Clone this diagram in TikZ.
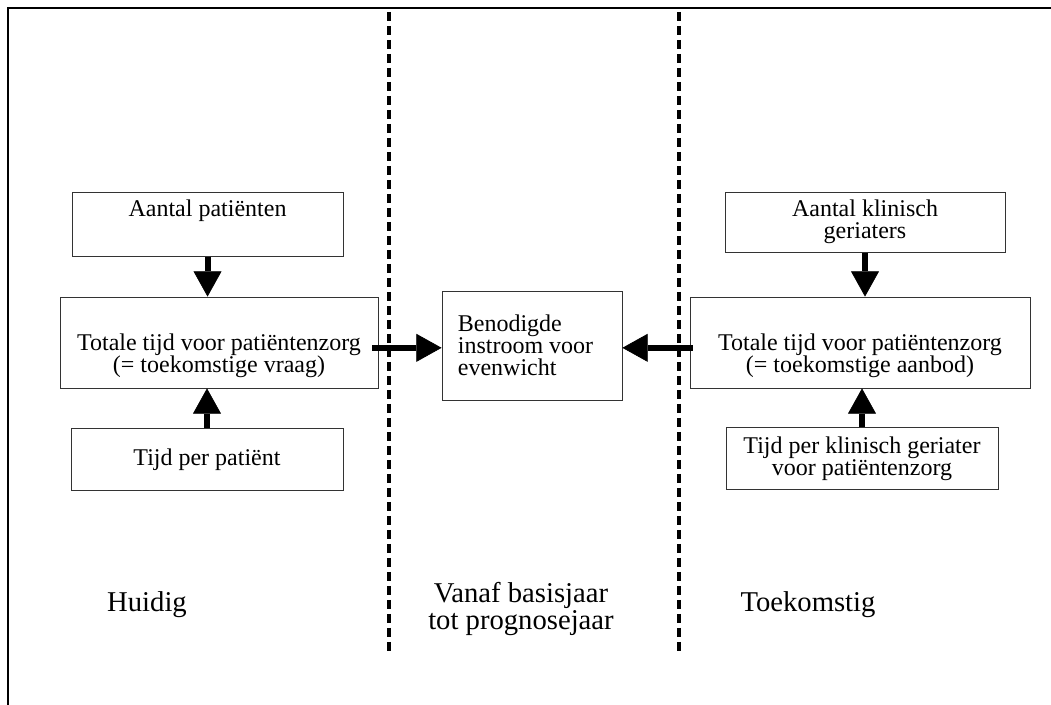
\documentclass[tikz,border=0pt]{standalone}
\usepackage{fontspec}
\setmainfont{Liberation Serif}
\usetikzlibrary{arrows.meta,positioning}

\begin{document}
\begin{tikzpicture}[x=0.75pt,y=-0.75pt,>={Triangle[length=19pt,width=21pt,line width=0.5pt]},
	font=\fontsize{18}{16.5}\selectfont]
	\tikzstyle{box}=[draw=black!80,line width=0.6pt,inner sep=0pt]
	\tikzstyle{txt}=[inner sep=0pt,align=center]
	\tikzstyle{flow}=[->,line width=4.5pt]
	\tikzstyle{sep}=[line width=3pt,dash pattern=on 6.75pt off 3.75pt]
	\tikzstyle{period}=[inner sep=0pt,align=center,font=\fontsize{21.5}{17.5}\selectfont]

	\useasboundingbox (0,0) rectangle (1051,705);
	\draw[line width=1.9pt] (1051,8) -- (8,8) -- (8,705);

	% demand side
	\node[box,minimum width=238.5pt,minimum height=68.25pt] (totL) at (219,342.5) {};
	\node[box,minimum width=203.25pt,minimum height=48pt] (aantalP) [above=30pt of totL,xshift=-8.6pt] {};
	\node[box,minimum width=204pt,minimum height=46.5pt] (tijdP) [below=30pt of totL,xshift=-9pt] {};

	% needed inflow
	\node[box,minimum width=135pt,minimum height=81.75pt] (mid) at (532,345.5) {};

	% supply side
	\node[box,minimum width=255pt,minimum height=68.25pt] (totR) at (860,342.5) {};
	\node[box,minimum width=210pt,minimum height=45pt] (aantalK) [above=33pt of totR,xshift=3.75pt] {};
	\node[box,minimum width=204pt,minimum height=46.5pt] (tijdK) [below=29pt of totR,xshift=1.5pt] {};

	\node[txt] (aantalPtxt) at ([yshift=10pt]aantalP.center) {Aantal patiënten};
	\node[txt] (totLtxt) at ([yshift=-10pt]totL.center) {Totale tijd voor patiëntenzorg\\(= toekomstige vraag)};
	\node[txt] (tijdPtxt) at (tijdP) {Tijd per patiënt};
	\node[txt,align=left,anchor=west] (midtxt) at ([xshift=12pt]mid.west) {Benodigde\\instroom voor\\evenwicht};
	\node[txt] (aantalKtxt) at (aantalK) {Aantal klinisch\\geriaters};
	\node[txt] (totRtxt) at ([yshift=-10pt]totR.center) {Totale tijd voor patiëntenzorg\\(= toekomstige aanbod)};
	\node[txt] (tijdKtxt) at (tijdK) {Tijd per klinisch geriater\\voor patiëntenzorg};

	% period borders
	\coordinate (sepLtop) at (389,12);
	\coordinate (sepLbot) at (389,655);
	\coordinate (sepRtop) at (679,12);
	\coordinate (sepRbot) at (679,655);
	\draw[sep] (sepLtop) -- (sepLbot);
	\draw[sep] (sepRtop) -- (sepRbot);

	\path[flow]
	(aantalP.south) edge (aantalP.south |- totL.north)
	(tijdP.north) edge (tijdP.north |- totL.south)
	(aantalK.south) edge (aantalK.south |- totR.north)
	(tijdK.north) edge (tijdK.north |- totR.south)
	([xshift=-4.5pt,yshift=-4pt]totL.east) edge ([yshift=-4pt]totL.east -| mid.west)
	([xshift=2.25pt,yshift=-4pt]totR.west) edge ([yshift=-4pt]totR.west -| mid.east)
	;

	\node[period] (huidig) at (147,605) {Huidig};
	\node[period] (vanaf) at (521,609) {Vanaf basisjaar\\tot prognosejaar};
	\node[period] (toekomst) at (808,605) {Toekomstig};
\end{tikzpicture}
\end{document}
